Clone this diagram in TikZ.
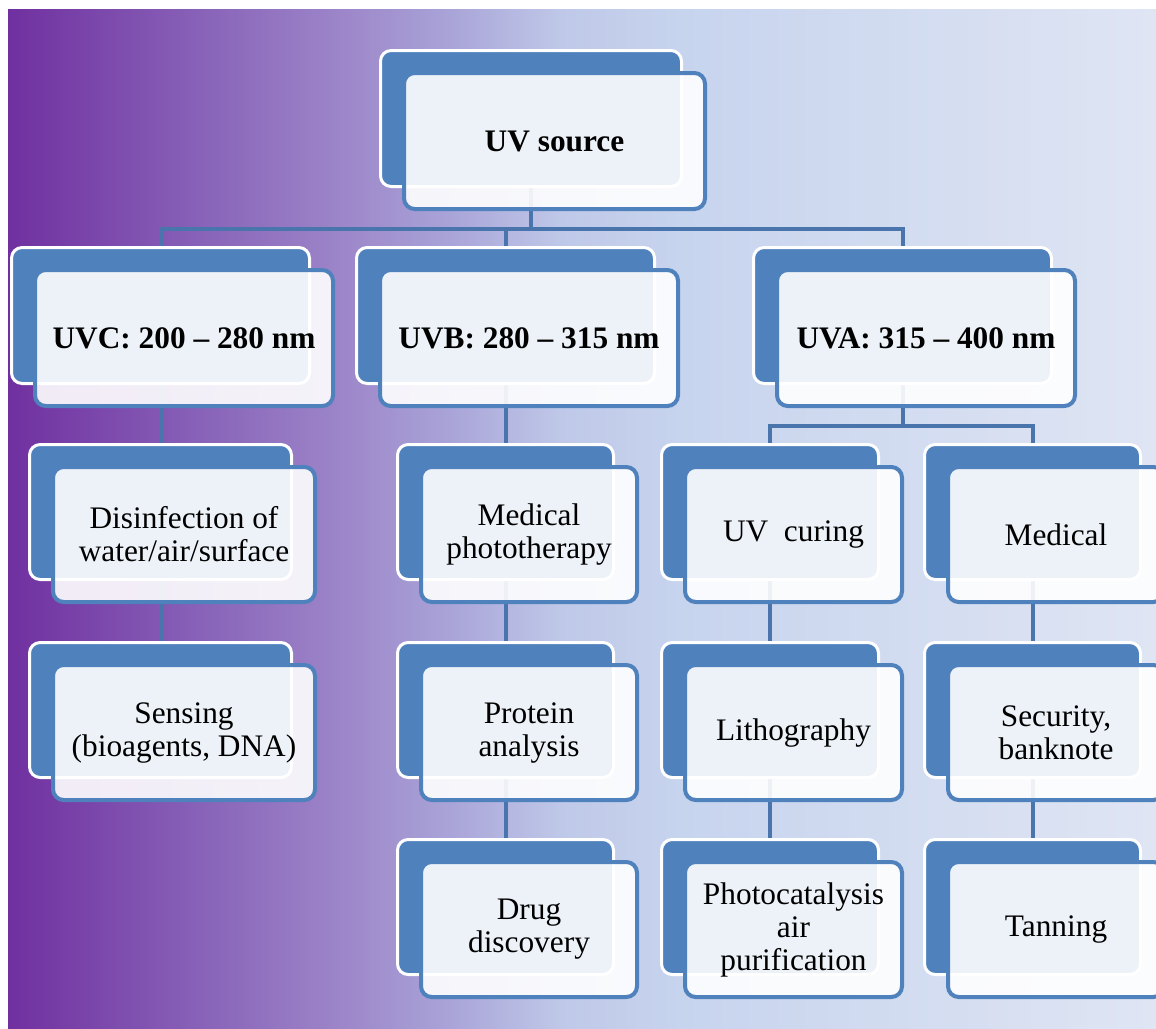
\documentclass[tikz,border=0pt]{standalone}
\usepackage{fontspec}
\setmainfont{Liberation Serif}
\pgfdeclarelayer{bglayer}
\pgfdeclarelayer{connlayer}
\pgfsetlayers{bglayer,connlayer,main}
\definecolor{boxblue}{HTML}{4F81BD}
\definecolor{linkblue}{HTML}{4A75AC}
\definecolor{ga}{HTML}{7030A0}
\definecolor{gb}{HTML}{8862B8}
\definecolor{gc}{HTML}{9E88CA}
\definecolor{gd}{HTML}{A9A4D8}
\definecolor{ge}{HTML}{BFC8E8}
\definecolor{gf}{HTML}{C7D4EE}
\definecolor{gg}{HTML}{DFE5F3}
\tikzset{
  backbox/.style={draw=white, line width=2.25pt, fill=boxblue, rounded corners=8pt, anchor=north west, inner sep=0pt},
  frontbox/.style={draw=boxblue, line width=3pt, fill=white, fill opacity=0.9, text opacity=1, rounded corners=8pt, anchor=north west, align=center, inner sep=0pt},
  boldtxt/.style={font=\fontsize{23.5}{26}\selectfont\rmfamily\bfseries},
  plaintxt/.style={font=\fontsize{23.5}{24.75}\selectfont\rmfamily},
  link/.style={draw=linkblue, line width=3pt},
}
\newcommand\uvbox[7]{%
  \node[backbox, minimum width=#4*0.75pt, minimum height=#5*0.75pt] (#1B) at (#2,#3) {};
  \node[frontbox, #6, minimum width=#4*0.75pt, minimum height=#5*0.75pt] (#1) at (#2+23,#3+22) {#7};
}
\begin{document}
\begin{tikzpicture}[x=0.75pt, y=-0.75pt]
\useasboundingbox (0,0) rectangle (1156,1028);
\begin{pgfonlayer}{bglayer}
  \fill[white] (0,0) rectangle (1156,1028);
  \shade[left color=ga, right color=gb] (8,9) rectangle (200.5,1028);
  \shade[left color=gb, right color=gc] (200,9) rectangle (350.5,1028);
  \shade[left color=gc, right color=gd] (350,9) rectangle (450.5,1028);
  \shade[left color=gd, right color=ge] (450,9) rectangle (560.5,1028);
  \shade[left color=ge, right color=gf] (560,9) rectangle (680.5,1028);
  \shade[left color=gf, right color=gg] (680,9) rectangle (1156,1028);
\end{pgfonlayer}

% level 1
\uvbox{root}{379}{49}{301}{136}{boldtxt}{UV source}
% level 2
\uvbox{uvc}{10}{246}{298}{136}{boldtxt}{UVC: 200 -- 280 nm}
\uvbox{uvb}{355}{246}{298}{136}{boldtxt}{UVB: 280 -- 315 nm}
\uvbox{uva}{752}{246}{298}{136}{boldtxt}{UVA: 315 -- 400 nm}
% UVC column
\uvbox{dis}{28}{443}{262}{135}{plaintxt}{Disinfection of\\water/air/surface}
\uvbox{sen}{28}{641}{262}{135}{plaintxt}{Sensing\\(bioagents, DNA)}
% UVB column
\uvbox{med}{396}{443}{216}{135}{plaintxt}{Medical\\phototherapy}
\uvbox{pro}{396}{641}{216}{135}{plaintxt}{Protein\\analysis}
\uvbox{drug}{396}{838}{216}{135}{plaintxt}{Drug\\discovery}
% UVA columns
\uvbox{cur}{660}{443}{217}{135}{plaintxt}{UV~ curing}
\uvbox{lith}{660}{641}{217}{135}{plaintxt}{Lithography}
\uvbox{photo}{660}{838}{217}{135}{plaintxt}{Photocatalysis\\air\\purification}
\uvbox{medi}{923}{443}{216}{135}{plaintxt}{Medical}
\uvbox{sec}{923}{641}{216}{135}{plaintxt}{Security,\\banknote}
\uvbox{tan}{923}{838}{216}{135}{plaintxt}{Tanning}

\begin{pgfonlayer}{connlayer}
  \draw[link] (rootB.south) -- ++(0,41) -| (uvcB.north);
  \draw[link] (rootB.south) -- ++(0,41) -| (uvbB.north);
  \draw[link] (rootB.south) -- ++(0,41) -| (uvaB.north);
  \draw[link] (uvcB.south) -- (disB.north);
  \draw[link] (disB.south) -- (senB.north);
  \draw[link] (uvbB.south) -- (medB.north);
  \draw[link] (medB.south) -- (proB.north);
  \draw[link] (proB.south) -- (drugB.north);
  \draw[link] (uvaB.south) -- ++(0,41) -| (curB.north);
  \draw[link] (uvaB.south) -- ++(0,41) -| (mediB.north);
  \draw[link] (curB.south) -- (lithB.north);
  \draw[link] (lithB.south) -- (photoB.north);
  \draw[link] (mediB.south) -- (secB.north);
  \draw[link] (secB.south) -- (tanB.north);
\end{pgfonlayer}
\end{tikzpicture}
\end{document}
